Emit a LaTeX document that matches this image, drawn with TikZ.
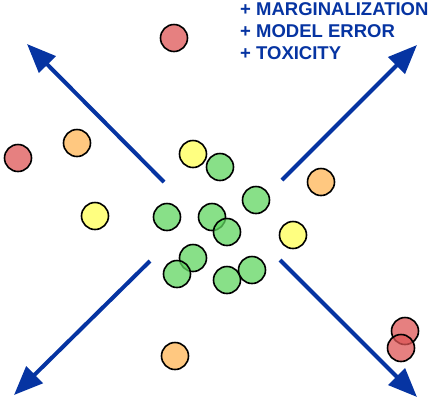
\documentclass[tikz,border=0pt]{standalone}
\usepackage{fontspec}
\setmainfont{Liberation Sans}
\usetikzlibrary{arrows.meta}
\definecolor{arrowblue}{RGB}{6,52,162}
\definecolor{dotgreen}{RGB}{96,213,96}
\definecolor{dotyellow}{RGB}{255,255,85}
\definecolor{dotorange}{RGB}{255,181,85}
\definecolor{dotred}{RGB}{221,85,85}

\begin{document}
\begin{tikzpicture}[x=1pt,y=-1pt]
    \tikzset{dot/.style={circle, draw=black, line width=1.6pt, fill=#1,
            fill opacity=0.75, draw opacity=1, minimum size=27pt, inner sep=0pt},
        spread/.style={draw=arrowblue, line width=4pt,
            -{Triangle[length=29pt,width=23pt]}},}
    \useasboundingbox (0,0) rectangle (436,400);
    % outliers
    \node[dot=dotred] (r1) at (174,38) {};
    \node[dot=dotred] (r2) at (18,158) {};
    \node[dot=dotorange] (o1) at (77,143) {};
    \node[dot=dotorange] (o2) at (321,182) {};
    \node[dot=dotorange] (o3) at (175,356) {};
    \node[dot=dotyellow] (y1) at (193,154) {};
    \node[dot=dotyellow] (y2) at (95,216) {};
    \node[dot=dotyellow] (y3) at (293,235) {};
    \node[dot=dotred] (r3) at (405,331) {};
    \node[dot=dotred] (r4) at (401,348) {};
    % cluster
    \foreach \n/\x/\y in {g1/220/167, g2/256/200, g3/167/217, g4/212/217,
            g5/227/232, g6/193/258, g7/177/274, g8/227/280, g9/252/270}
        \node[dot=dotgreen] (\n) at (\x,\y) {};
    % arrows
    \coordinate (nwS) at (164,182); \coordinate (nwE) at (27,44);
    \coordinate (neS) at (282,180); \coordinate (neE) at (417,45);
    \coordinate (swS) at (150,261); \coordinate (swE) at (14,395);
    \coordinate (seS) at (280,260); \coordinate (seE) at (417,397);
    \draw[spread] (nwS) -- (nwE);
    \draw[spread] (neS) -- (neE);
    \draw[spread] (swS) -- (swE);
    \draw[spread] (seS) -- (seE);
    \node[anchor=north west, align=left, inner sep=0pt, text=arrowblue,
        font=\fontsize{18.5}{22}\selectfont\bfseries] (causes) at (240,2)
        {+ MARGINALIZATION\\+ MODEL ERROR\\+ TOXICITY};
\end{tikzpicture}
\end{document}
